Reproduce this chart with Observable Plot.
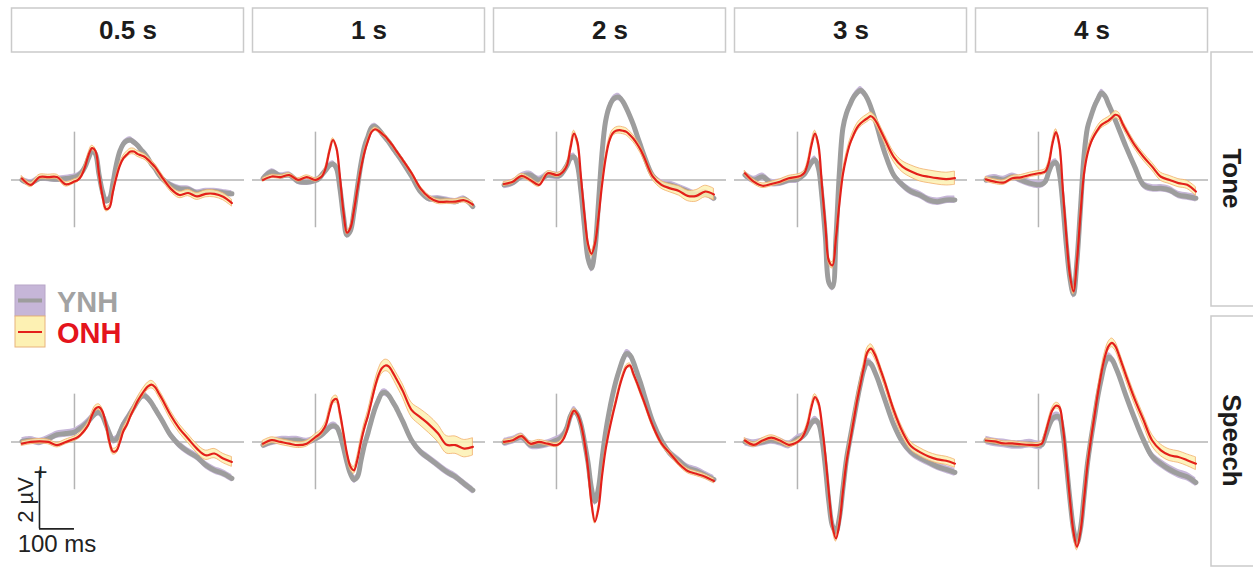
<!DOCTYPE html>
<html>
<head>
<meta charset="utf-8">
<script src="https://cdn.jsdelivr.net/npm/d3@7"></script>
<script src="https://cdn.jsdelivr.net/npm/@observablehq/plot@0.6"></script>
<style>
  html, body { margin: 0; padding: 0; background: #fff; }
  #chart { width: 1253px; height: 567px; }
</style>
</head>
<body>
<div id="chart"></div>
<script>
// ---------- categories ----------
const durations = ["0.5 s", "1 s", "2 s", "3 s", "4 s"];
const stimuli = ["Tone", "Speech"];
const groups = ["YNH", "ONH"];

// time samples (ms)
const times = [-150,-125,-100,-75,-50,-25,0,10,20,30,40,50,60,70,80,90,100,110,120,130,140,150,160,170,180,190,200,210,220,230,240,250,275,300,325,350,375,400,425,450];

// ---------- grand-average waveforms (µV) ----------
const toneYNH_05 = [0.0,-0.1,0.05,0.05,0.02,0.05, 0.1,0.15,0.25,0.45,0.75,1.0,0.9,0.2,-0.4,-0.72,-0.65,-0.1,0.55,1.0,1.25,1.35,1.38,1.3,1.2,1.05,0.92,0.75,0.55,0.4,0.2,0.05, -0.18,-0.3,-0.32,-0.45,-0.4,-0.4,-0.44,-0.48];
const toneONH_05 = [0.05,-0.17,0.1,0.1,0.1,-0.15, -0.05,0.0,0.15,0.45,0.85,1.1,1.0,0.2,-0.55,-1.0,-0.95,-0.4,0.1,0.5,0.75,0.88,0.98,0.98,0.9,0.85,0.8,0.7,0.58,0.45,0.28,0.1, -0.3,-0.52,-0.45,-0.57,-0.48,-0.48,-0.58,-0.8];
const toneYNH_1 = [0.05,0.28,0.14,0.17,-0.05,-0.08, -0.02,0.05,0.2,0.35,0.5,0.55,0.4,-0.3,-1.25,-1.9,-1.75,-1.1,-0.25,0.55,1.15,1.5,1.8,1.85,1.75,1.6,1.45,1.3,1.12,0.95,0.78,0.6, 0.12,-0.4,-0.65,-0.65,-0.7,-0.75,-0.66,-0.92];
const toneONH_1 = [0.0,0.12,0.1,0.17,0.0,0.1, 0.0,0.05,0.15,0.45,1.0,1.38,1.1,0.1,-1.1,-1.82,-1.65,-1.05,-0.3,0.4,0.95,1.35,1.65,1.75,1.7,1.6,1.5,1.35,1.2,1.02,0.85,0.68, 0.23,-0.29,-0.6,-0.75,-0.75,-0.75,-0.7,-0.85];
const toneYNH_2 = [-0.17,-0.1,0.12,0.17,0.0,0.17, 0.14,0.15,0.3,0.5,0.75,0.8,0.5,-0.4,-1.6,-2.7,-3.05,-2.4,-0.8,0.9,2.0,2.5,2.75,2.85,2.85,2.7,2.47,2.2,1.9,1.55,1.2,0.86, 0.15,-0.12,-0.17,-0.28,-0.4,-0.52,-0.46,-0.63];
const toneONH_2 = [-0.14,-0.06,0.14,0.0,-0.17,0.23, 0.17,0.2,0.3,0.5,1.1,1.6,1.3,0.1,-1.2,-2.2,-2.55,-2.2,-1.3,-0.2,0.7,1.3,1.6,1.7,1.72,1.7,1.66,1.55,1.42,1.25,1.05,0.8, 0.12,-0.17,-0.29,-0.38,-0.55,-0.55,-0.4,-0.5];
const toneYNH_3 = [0.17,0.0,0.11,-0.1,-0.1,0.0, 0.02,0.1,0.2,0.4,0.6,0.7,0.4,-0.6,-2.0,-3.55,-3.7,-2.0,0.3,1.8,2.3,2.6,2.85,3.0,3.1,3.0,2.8,2.5,2.15,1.75,1.3,0.92, 0.17,-0.17,-0.4,-0.52,-0.69,-0.75,-0.69,-0.69];
const toneONH_3 = [0.23,-0.06,-0.2,-0.14,-0.06,0.06, 0.11,0.15,0.25,0.6,1.2,1.6,1.2,-0.2,-1.6,-2.8,-2.95,-2.0,-0.8,0.2,0.8,1.25,1.55,1.8,1.95,2.05,2.13,2.2,2.1,1.9,1.65,1.4, 0.8,0.46,0.29,0.17,0.11,0.06,0.03,0.06];
const toneYNH_4 = [0.0,0.06,0.0,0.11,0.0,-0.11, -0.17,-0.15,-0.05,0.3,0.55,0.6,0.2,-0.9,-2.3,-3.4,-3.95,-2.8,-1.0,0.8,1.8,2.2,2.55,2.8,3.0,2.9,2.62,2.35,2.05,1.75,1.45,1.15, 0.46,-0.17,-0.29,-0.29,-0.35,-0.52,-0.57,-0.63];
const toneONH_4 = [0.02,-0.06,-0.09,0.06,0.09,0.17, 0.23,0.25,0.3,0.6,1.25,1.65,1.2,-0.4,-2.0,-3.3,-3.85,-2.8,-1.2,0.2,0.9,1.3,1.55,1.75,1.9,1.98,2.05,2.15,2.25,2.2,1.95,1.72, 1.2,0.8,0.46,0.11,0.0,-0.11,-0.17,-0.4];

const speechYNH_05 = [0.02,0.06,0.0,0.11,0.25,0.29, 0.34,0.42,0.5,0.6,0.72,0.86,0.98,1.02,0.9,0.6,0.29,0.06,0.1,0.35,0.62,0.8,1.0,1.2,1.4,1.56,1.6,1.5,1.35,1.15,0.95,0.75, 0.23,-0.11,-0.34,-0.52,-0.8,-0.98,-1.09,-1.26];
const speechONH_05 = [-0.06,0.0,0.02,0.0,-0.11,0.0, 0.11,0.17,0.28,0.42,0.6,0.92,1.15,1.2,1.05,0.6,0.0,-0.33,-0.3,0.0,0.38,0.6,0.9,1.15,1.4,1.6,1.78,1.92,1.98,1.9,1.7,1.49, 0.92,0.46,0.11,-0.23,-0.46,-0.4,-0.57,-0.69];
const speechYNH_1 = [-0.11,0.0,0.06,0.06,0.06,0.0, 0.11,0.18,0.26,0.38,0.5,0.56,0.52,0.25,-0.2,-0.7,-1.1,-1.3,-1.2,-0.65,-0.1,0.3,0.75,1.15,1.45,1.68,1.7,1.6,1.4,1.2,0.95,0.7, 0.05,-0.34,-0.57,-0.8,-1.03,-1.2,-1.44,-1.67];
const speechONH_1 = [-0.06,0.06,0.0,-0.06,-0.11,-0.06, 0.17,0.25,0.38,0.6,1.05,1.42,1.48,1.0,0.3,-0.4,-0.85,-0.98,-0.6,0.0,0.5,0.9,1.4,1.9,2.3,2.55,2.64,2.6,2.42,2.2,1.98,1.75, 1.1,0.85,0.6,0.3,-0.1,-0.11,-0.23,-0.17];
const speechYNH_2 = [-0.02,0.06,0.17,-0.1,-0.12,-0.06, 0.06,0.12,0.25,0.5,0.9,1.08,0.95,0.6,0.0,-0.7,-1.6,-2.05,-1.6,-0.6,0.3,1.0,1.6,2.1,2.5,2.85,3.05,3.0,2.75,2.4,2.05,1.65, 0.7,0.05,-0.4,-0.65,-0.9,-1.0,-1.15,-1.3];
const speechONH_2 = [0.0,0.06,0.2,-0.06,0.0,-0.06, -0.11,-0.05,0.1,0.4,0.85,1.08,0.95,0.6,0.0,-0.9,-2.1,-2.75,-2.3,-1.2,-0.3,0.35,0.9,1.4,1.9,2.3,2.58,2.64,2.35,2.05,1.72,1.4, 0.57,-0.05,-0.4,-0.75,-1.0,-1.1,-1.2,-1.35];
const speechYNH_3 = [0.0,-0.06,0.0,0.06,0.0,-0.1, 0.11,0.15,0.25,0.45,0.65,0.75,0.65,0.1,-0.9,-2.1,-2.9,-3.1,-2.6,-1.6,-0.6,0.1,0.75,1.4,2.0,2.5,2.76,2.7,2.45,2.15,1.8,1.45, 0.6,0.0,-0.35,-0.55,-0.7,-0.85,-0.95,-1.05];
const speechONH_3 = [0.05,-0.1,0.05,0.15,0.05,-0.1, 0.0,0.1,0.3,0.65,1.2,1.55,1.35,0.6,-0.5,-1.8,-2.9,-3.33,-2.8,-1.7,-0.7,0.0,0.7,1.4,2.0,2.6,3.1,3.22,3.05,2.75,2.4,2.05, 1.1,0.35,-0.15,-0.35,-0.5,-0.6,-0.65,-0.75];
const speechYNH_4 = [0.05,-0.02,-0.05,-0.1,-0.1,-0.06, -0.12,-0.1,0.2,0.55,0.8,0.88,0.85,0.3,-0.8,-2.0,-3.0,-3.5,-3.0,-1.9,-0.75,0.1,0.85,1.6,2.2,2.7,2.93,2.85,2.6,2.3,1.95,1.6, 0.8,0.07,-0.5,-0.75,-0.95,-1.1,-1.2,-1.4];
const speechONH_4 = [0.05,0.02,-0.05,-0.05,-0.08,-0.1, -0.1,-0.05,0.3,0.75,1.1,1.25,1.2,0.5,-0.7,-2.0,-3.1,-3.62,-3.1,-2.0,-0.8,0.1,0.9,1.7,2.4,2.95,3.3,3.42,3.3,3.0,2.65,2.3, 1.48,0.76,0.05,-0.29,-0.46,-0.52,-0.63,-0.75];

// ---------- standard errors (µV) ----------
const toneSE_YNH = [0.11, 0.11, 0.13, 0.13, 0.13];
const speechSE_YNH = [0.13, 0.13, 0.14, 0.14, 0.15];
const toneSE_ONH_05 = [.08,.08,.08,.08,.08,.08, .07,.07,.07,.08,.08,.08,.08,.08,.08,.08,.08,.08,.08,.09,.09,.1,.1,.1,.1,.1,.1,.1,.1,.1,.1,.1, .1,.11,.11,.12,.12,.12,.12,.12];
const toneSE_ONH_1 = [.06,.06,.06,.06,.06,.06, .06,.06,.06,.06,.06,.06,.06,.06,.06,.06,.06,.06,.06,.06,.06,.06,.06,.06,.06,.06,.06,.06,.06,.06,.06,.06, .07,.07,.07,.08,.08,.08,.08,.09];
const toneSE_ONH_2 = [.07,.07,.07,.07,.07,.07, .07,.07,.07,.08,.09,.1,.1,.1,.1,.1,.1,.1,.1,.1,.1,.1,.11,.11,.12,.12,.12,.12,.12,.12,.12,.12, .12,.13,.14,.16,.18,.2,.2,.2];
const toneSE_ONH_3 = [.08,.08,.08,.08,.08,.08, .08,.08,.08,.09,.1,.1,.1,.1,.1,.11,.11,.11,.11,.12,.12,.12,.13,.13,.13,.13,.13,.13,.13,.14,.14,.15, .17,.19,.21,.22,.22,.22,.22,.23];
const toneSE_ONH_4 = [.08,.08,.08,.08,.08,.08, .08,.08,.08,.08,.09,.1,.1,.1,.1,.1,.1,.1,.1,.1,.11,.11,.11,.12,.12,.12,.12,.12,.12,.12,.12,.12, .12,.13,.13,.14,.14,.14,.14,.15];
const speechSE_ONH_05 = [.08,.08,.08,.08,.08,.08, .08,.08,.09,.09,.1,.1,.1,.1,.1,.1,.1,.1,.1,.11,.11,.12,.12,.13,.13,.13,.13,.13,.13,.13,.13,.14, .15,.15,.15,.15,.16,.16,.16,.17];
const speechSE_ONH_1 = [.1,.1,.1,.1,.1,.1, .1,.1,.11,.11,.12,.12,.12,.12,.12,.12,.12,.12,.13,.14,.15,.16,.17,.18,.19,.2,.2,.2,.2,.21,.22,.23, .25,.28,.3,.3,.3,.3,.3,.3];
const speechSE_ONH_2 = [.07,.07,.07,.07,.07,.07, .07,.07,.07,.07,.07,.07,.07,.07,.07,.07,.07,.07,.07,.07,.07,.07,.07,.07,.07,.07,.07,.07,.07,.07,.07,.07, .07,.07,.08,.08,.08,.08,.08,.08];
const speechSE_ONH_3 = [.08,.08,.08,.08,.08,.08, .08,.08,.08,.09,.1,.1,.1,.1,.1,.11,.11,.11,.12,.12,.13,.13,.14,.14,.15,.15,.15,.15,.15,.15,.15,.15, .15,.15,.14,.14,.14,.14,.14,.14];
const speechSE_ONH_4 = [.07,.07,.07,.07,.07,.07, .07,.07,.08,.08,.09,.1,.1,.1,.1,.11,.11,.12,.12,.12,.13,.13,.14,.14,.15,.15,.15,.15,.15,.16,.16,.17, .18,.18,.2,.2,.2,.2,.2,.22];

// annotation values
const onsetMarker = [-1.65, 1.65];      // µV extent of the stimulus-onset marker
const scaleBarTime = [-100, 0];         // 100 ms
const scaleBarVolt = [-3, -1];          // 2 µV

// ---------- build table ----------
const means = {
  Tone: { YNH: [toneYNH_05, toneYNH_1, toneYNH_2, toneYNH_3, toneYNH_4],
          ONH: [toneONH_05, toneONH_1, toneONH_2, toneONH_3, toneONH_4] },
  Speech: { YNH: [speechYNH_05, speechYNH_1, speechYNH_2, speechYNH_3, speechYNH_4],
            ONH: [speechONH_05, speechONH_1, speechONH_2, speechONH_3, speechONH_4] }
};
const errors = {
  Tone: { YNH: toneSE_YNH, ONH: [toneSE_ONH_05, toneSE_ONH_1, toneSE_ONH_2, toneSE_ONH_3, toneSE_ONH_4] },
  Speech: { YNH: speechSE_YNH, ONH: [speechSE_ONH_05, speechSE_ONH_1, speechSE_ONH_2, speechSE_ONH_3, speechSE_ONH_4] }
};
const rows = [];
stimuli.forEach(stim => durations.forEach((dur, i) => groups.forEach(group => {
  const vals = means[stim][group][i];
  times.forEach((t, k) => {
    const se = group === "YNH" ? errors[stim].YNH[i] : errors[stim].ONH[i][k];
    rows.push({stim, dur, group, t, v: vals[k], lo: vals[k] - se, hi: vals[k] + se});
  });
})));
const ynhRows = rows.filter(d => d.group === "YNH");
const onhRows = rows.filter(d => d.group === "ONH");
const headers = durations.map(dur => ({dur, stim: "Tone"}));
const strips = stimuli.map(stim => ({dur: durations[durations.length - 1], stim}));
const scaleBarPanel = [{dur: durations[0], stim: "Speech"}];

const FONT = "'Liberation Sans', Arial, Helvetica, sans-serif";
const GRAY = "#9d9d9d", LAV = "#c6b6d8", RED = "#e3201b", YEL = "#fdf1b3", ORA = "#f1ad6b";
const F = {fx: "dur", fy: "stim"};

const plot = Plot.plot({
  width: 1253, height: 567,
  marginLeft: 10, marginRight: 45, marginTop: 52, marginBottom: 0,
  style: {fontFamily: FONT, background: "white", overflow: "visible"},
  fx: {domain: durations, axis: null, paddingInner: 0.034, paddingOuter: 0},
  fy: {domain: stimuli, axis: null, paddingInner: 0.038, paddingOuter: 0},
  x: {domain: [-180, 486], axis: null},
  y: {domain: [-4.3, 4.4], axis: null},
  marks: [
    Plot.ruleY([0], {stroke: "#b4b4b4", strokeWidth: 1.5}),
    Plot.ruleX([0], {y1: onsetMarker[0], y2: onsetMarker[1], stroke: "#b4b4b4", strokeWidth: 1.5}),
    Plot.areaY(ynhRows, {...F, x: "t", y1: "lo", y2: "hi", fill: LAV, curve: "catmull-rom"}),
    Plot.line(ynhRows, {...F, x: "t", y: "v", stroke: GRAY, strokeWidth: 5, curve: "catmull-rom"}),
    Plot.areaY(onhRows, {...F, x: "t", y1: "lo", y2: "hi", fill: YEL, fillOpacity: 0.85, stroke: ORA, strokeWidth: 0.8, curve: "catmull-rom"}),
    Plot.line(onhRows, {...F, x: "t", y: "v", stroke: RED, strokeWidth: 2.2, curve: "catmull-rom"}),
    // facet labels
    Plot.text(headers, {...F, text: "dur", frameAnchor: "top", lineAnchor: "middle", textAnchor: "middle", dy: -22, fontSize: 26, fontWeight: "bold", fill: "#1c1c1c"}),
    Plot.text(strips, {...F, text: "stim", frameAnchor: "right", lineAnchor: "middle", textAnchor: "middle", dx: 23, rotate: 90, fontSize: 26, fontWeight: "bold", fill: "#1c1c1c"}),
    // scale bar
    Plot.ruleX(scaleBarPanel, {...F, x: scaleBarTime[0], y1: scaleBarVolt[0], y2: scaleBarVolt[1], stroke: "#222", strokeWidth: 1.6}),
    Plot.ruleY(scaleBarPanel, {...F, y: scaleBarVolt[0], x1: scaleBarTime[0], x2: scaleBarTime[1], stroke: "#222", strokeWidth: 1.6}),
    Plot.text(scaleBarPanel, {...F, x: scaleBarTime[0], y: scaleBarVolt[1], text: () => "+", fontSize: 24, fill: "#222", dx: 1, dy: 1}),
    Plot.text(scaleBarPanel, {...F, x: scaleBarTime[0], y: (scaleBarVolt[0] + scaleBarVolt[1]) / 2, text: () => "2 µV", rotate: -90, dx: -14, fontSize: 22, fill: "#222"}),
    Plot.text(scaleBarPanel, {...F, x: (scaleBarTime[0] + scaleBarTime[1]) / 2, y: scaleBarVolt[0], text: () => "100 ms", dy: 15, fontSize: 24, fill: "#222"})
  ]
});
document.getElementById("chart").append(plot);

// ---------- facet label boxes and legend (positions from Plot's scales) ----------
const svg = d3.select(plot);
const fxS = plot.scale("fx"), fyS = plot.scale("fy");
const boxes = svg.insert("g", "g");
durations.forEach(d => {
  boxes.append("rect")
    .attr("x", fxS.apply(d) + 0.5).attr("y", 8)
    .attr("width", fxS.bandwidth - 1).attr("height", 44)
    .attr("fill", "white").attr("stroke", "#cacaca").attr("stroke-width", 1.5);
});
stimuli.forEach(s => {
  boxes.append("rect")
    .attr("x", 1211).attr("y", fyS.apply(s) + (s === "Tone" ? 0 : 2))
    .attr("width", 60).attr("height", fyS.bandwidth + (s === "Tone" ? 2 : -2))
    .attr("fill", "white").attr("stroke", "#cacaca").attr("stroke-width", 1.5);
});

const leg = svg.append("g").attr("font-family", FONT).attr("text-anchor", "start");
leg.append("rect").attr("x", 15).attr("y", 285).attr("width", 30).attr("height", 31)
  .attr("fill", LAV).attr("stroke", "#b8a6c8");
leg.append("line").attr("x1", 18).attr("x2", 42).attr("y1", 300.5).attr("y2", 300.5)
  .attr("stroke", GRAY).attr("stroke-width", 4);
leg.append("rect").attr("x", 15).attr("y", 316).attr("width", 30).attr("height", 31)
  .attr("fill", YEL).attr("stroke", "#e8b37c");
leg.append("line").attr("x1", 18).attr("x2", 42).attr("y1", 332).attr("y2", 332)
  .attr("stroke", RED).attr("stroke-width", 2);
leg.append("text").attr("x", 57).attr("y", 312).text("YNH").attr("text-anchor", "start")
  .attr("font-size", 29).attr("font-weight", "bold").attr("fill", "#a2a2a2");
leg.append("text").attr("x", 57).attr("y", 343).text("ONH").attr("text-anchor", "start")
  .attr("font-size", 29).attr("font-weight", "bold").attr("fill", "#e4141c");
</script>
</body>
</html>
